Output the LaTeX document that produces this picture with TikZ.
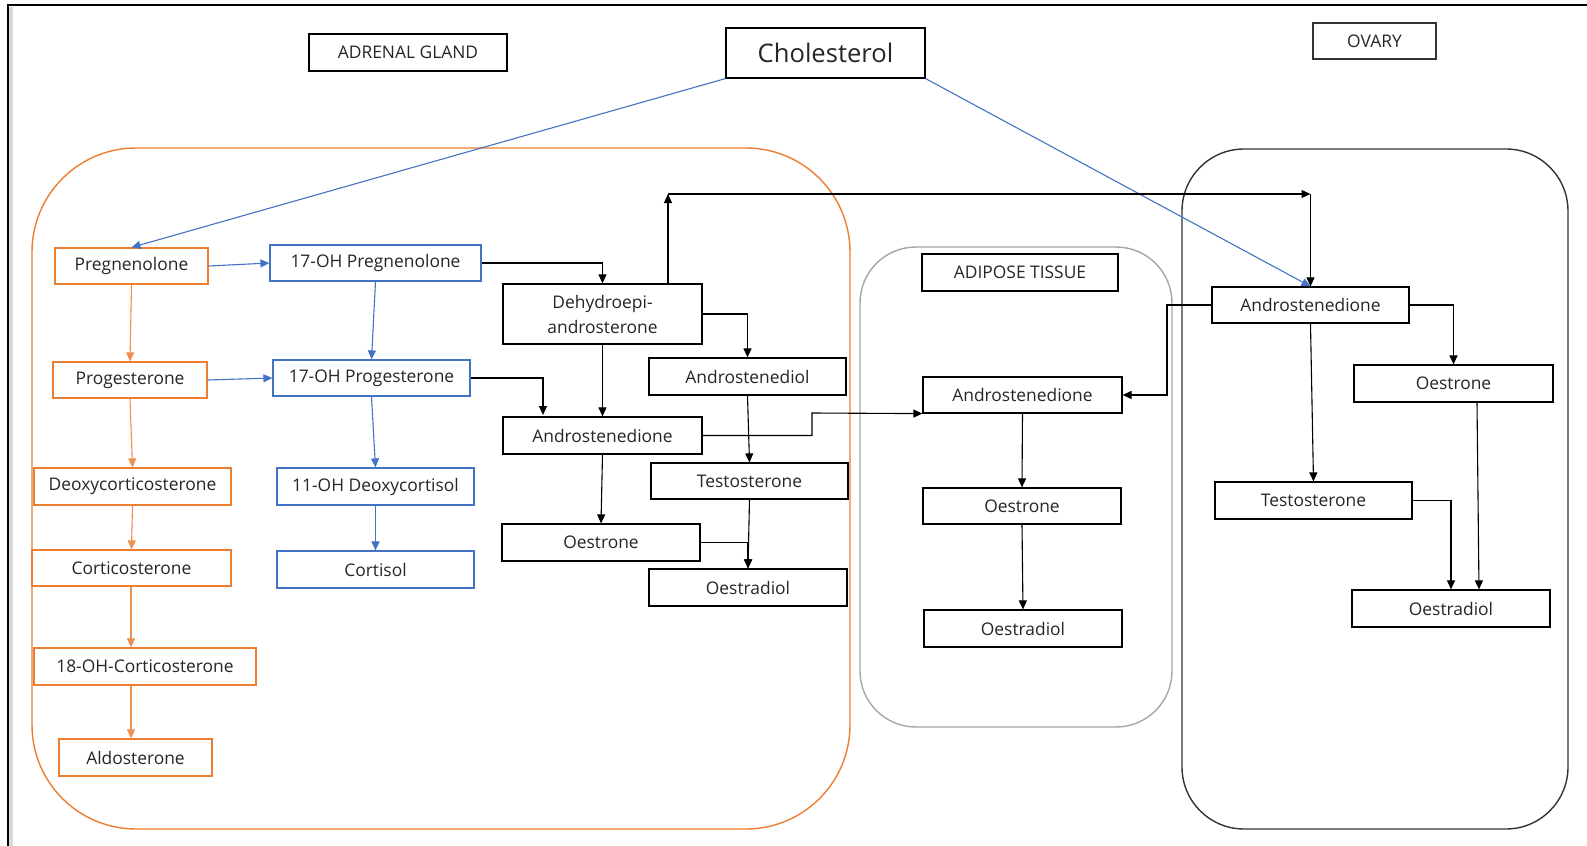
\documentclass[tikz,border=0pt]{standalone}
\usepackage{fontspec}
\setmainfont{Open Sans}
\usetikzlibrary{arrows.meta}
\definecolor{orng}{HTML}{ED7D31}
\definecolor{blu}{HTML}{4472C4}
\definecolor{txt}{HTML}{262626}
\newcommand\mkbox[7]{%
  \node[#1, minimum width={(#4-#2)*0.5pt}, minimum height={(#5-#3)*0.5pt}] (#6) at ({(#2+#4)/2},{(#3+#5)/2}) {#7};}
\tikzset{
  bx/.style={draw, line width=0.6pt, inner sep=0pt, text=txt, align=center,
    font=\fontsize{8.7}{12.5}\selectfont},
  obx/.style={bx, draw=orng},
  bbx/.style={bx, draw=blu},
  kbx/.style={bx, draw=black},
  tip/.style={-{Triangle[length=4.5pt,width=4pt]}},
  karr/.style={tip, line width=0.55pt, draw=black},
  oarr/.style={tip, line width=0.55pt, draw=orng!85, fill=orng},
  barr/.style={tip, line width=0.55pt, draw=blu},
  kline/.style={line width=0.55pt, draw=black},
}
\begin{document}
\begin{tikzpicture}[x=0.5pt,y=-0.5pt]
\useasboundingbox (0,0) rectangle (1587,846);
\fill[white] (0,0) rectangle (1587,846);
% frame
\draw[line width=2pt, black!15] (11,7) -- (11,846);
\draw[line width=0.7pt, black] (8,846) -- (8,5) -- (1587,5);
% containers
\draw[orng, line width=0.7pt, rounded corners=52pt] (32,148) rectangle (850,829);
\draw[black!35, line width=0.7pt, rounded corners=28pt] (860,247) rectangle (1172,727);
\draw[black!80, line width=0.7pt, rounded corners=31pt] (1182,149) rectangle (1568,829);
% titles
\mkbox{kbx, font=\fontsize{12.8}{15}\selectfont}{726}{28}{925}{78}{chol}{Cholesterol}
\mkbox{kbx}{309}{34}{507}{71}{adrenal}{ADRENAL GLAND}
\mkbox{kbx, draw=black!80}{1313}{23}{1436}{59}{ovary}{OVARY}
\mkbox{kbx}{922}{254}{1118}{291}{adipose}{ADIPOSE TISSUE}
% orange chain
\mkbox{obx}{55}{248}{208}{284}{preg}{Pregnenolone}
\mkbox{obx}{53}{362}{207}{398}{prog}{Progesterone}
\mkbox{obx}{34}{468}{231}{505}{doc}{Deoxycorticosterone}
\mkbox{obx}{32}{550}{231}{586}{cort}{Corticosterone}
\mkbox{obx}{34}{648}{256}{685}{ohc}{18-OH-Corticosterone}
\mkbox{obx}{59}{739}{212}{776}{aldo}{Aldosterone}
% blue chain
\mkbox{bbx}{270}{245}{481}{281}{ohpreg}{17-OH Pregnenolone}
\mkbox{bbx}{273}{360}{470}{396}{ohprog}{17-OH Progesterone}
\mkbox{bbx}{277}{468}{474}{505}{ohdoc}{11-OH Deoxycortisol}
\mkbox{bbx}{277}{551}{474}{588}{cortisol}{Cortisol}
% adrenal black
\mkbox{kbx}{503}{284}{702}{344}{dhea}{Dehydroepi-\\androsterone}
\mkbox{kbx}{649}{358}{846}{395}{adiol}{Androstenediol}
\mkbox{kbx}{503}{417}{702}{454}{andA}{Androstenedione}
\mkbox{kbx}{651}{463}{848}{499}{testA}{Testosterone}
\mkbox{kbx}{502}{524}{700}{561}{oneA}{Oestrone}
\mkbox{kbx}{649}{569}{847}{606}{dioA}{Oestradiol}
% adipose
\mkbox{kbx}{923}{377}{1122}{413}{andB}{Androstenedione}
\mkbox{kbx}{923}{488}{1121}{524}{oneB}{Oestrone}
\mkbox{kbx}{924}{610}{1122}{647}{dioB}{Oestradiol}
% ovary
\mkbox{kbx}{1212}{287}{1409}{323}{andC}{Androstenedione}
\mkbox{kbx}{1354}{365}{1553}{402}{oneC}{Oestrone}
\mkbox{kbx}{1215}{482}{1412}{519}{testC}{Testosterone}
\mkbox{kbx}{1352}{590}{1550}{627}{dioC}{Oestradiol}
% coordinates
\coordinate (up) at (668,194);
\coordinate (rt) at (1310.5,194);
\coordinate (k1) at (543,415);
\coordinate (k2) at (812,413);
\coordinate (k3) at (1167,305);
\coordinate (ox) at (131,0);
% blue connectors
\draw[barr] (chol.south west) -- (preg.north);
\draw[barr] (chol.south east) -- (andC.north);
\draw[barr] (preg.east) -- (ohpreg.west);
\draw[barr] (prog.east) -- (ohprog.west);
\draw[barr] (ohpreg.south) -- (ohprog.north);
\draw[barr] (ohprog.south) -- (ohdoc.north);
\draw[barr] (ohdoc.south) -- (cortisol.north);
% orange connectors
\draw[oarr] (preg.south) -- (prog.north);
\draw[oarr] (prog.south) -- (doc.north);
\draw[oarr] (doc.south) -- (cort.south |- cort.north);
\draw[oarr] (ox |- cort.south) -- (ox |- ohc.north);
\draw[oarr] (ox |- ohc.south) -- (ox |- aldo.north);
% black connectors
\draw[karr] (ohpreg.east) -| (dhea.north);
\draw[karr] (dhea.north -| up) -- (up);
\draw[karr] (up) -- (rt);
\draw[karr] (rt) -- (andC.north);
\draw[karr] (dhea.east) -| (adiol.north);
\draw[karr] (dhea.south) -- (andA.north);
\draw[karr] (ohprog.east) -| (k1);
\draw[karr] (adiol.south) -- (testA.north);
\draw[karr] (testA.south) -- (dioA.north);
\draw[karr] (oneA.east) -| (dioA.north);
\draw[karr] (andA.south) -- (oneA.north);
\draw[karr] (andA.east) -| (k2) -- (andB.south west);
\draw[karr] (andB.south) -- (oneB.north);
\draw[karr] (oneB.south) -- (dioB.north);
\draw[karr] (andC.west) -- (k3) |- (andB.east);
\draw[karr] (andC.east) -| (oneC.north);
\draw[karr] (andC.south) -- (testC.north);
\draw[karr] ([xshift=11.75pt]oneC.south) -- ([xshift=14pt]dioC.north);
\draw[karr] (testC.east) -| (dioC.north);
\end{tikzpicture}
\end{document}
